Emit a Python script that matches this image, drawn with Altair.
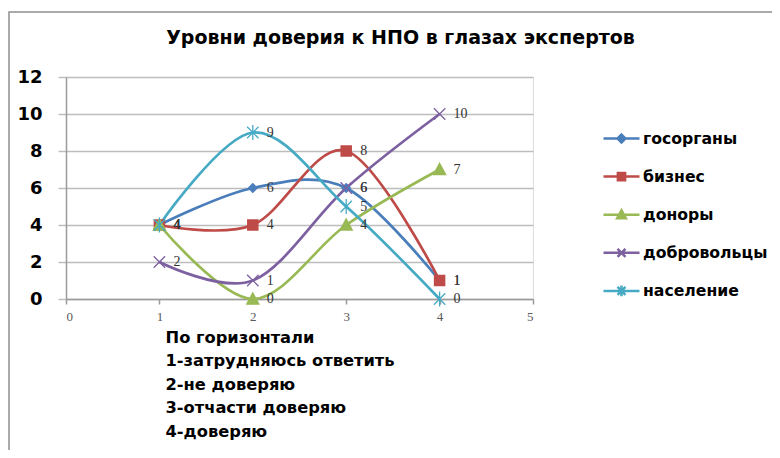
import altair as alt
import pandas as pd

# ---- data ----
series = ["госорганы", "бизнес", "доноры", "добровольцы", "население"]
x_vals = [1, 2, 3, 4]
gosorgany = [4, 6, 6, 1]
biznes = [4, 4, 8, 1]
donory = [4, 0, 4, 7]
dobrovoltsy = [2, 1, 6, 10]
naselenie = [4, 9, 5, 0]
x_ticks = [0, 1, 2, 3, 4, 5]
y_ticks = [0, 2, 4, 6, 8, 10, 12]
note_lines = ["По горизонтали", "1-затрудняюсь ответить", "2-не доверяю",
              "3-отчасти доверяю", "4-доверяю"]
title_text = "Уровни доверия к НПО в глазах экспертов"

# ---- styles ----
colors = ["#4A7EBB", "#BE4B48", "#98B954", "#7D60A0", "#46AAC5"]
marker_paths = [
    "M0,-1L1,0L0,1L-1,0Z",
    "M-1,-1H1V1H-1Z",
    "M0,-1L1,0.85H-1Z",
    "M-1,-1L1,1M1,-1L-1,1",
    "M-1,-1L1,1M1,-1L-1,1M0,-1.3V1.3",
]
marker_sizes = [70, 100, 140, 130, 130]
marker_strokes = [1.5, 1.5, 1.5, 1.3, 1.3]
legend_paths = [
    "M-1,0H1M0,-0.22L0.22,0L0,0.22L-0.22,0Z",
    "M-1,0H1M-0.2,-0.2H0.2V0.2H-0.2Z",
    "M-1,0H1M0,-0.24L0.24,0.2H-0.24Z",
    "M-1,0H1M-0.22,-0.22L0.22,0.22M0.22,-0.22L-0.22,0.22",
    "M-1,0H1M-0.22,-0.22L0.22,0.22M0.22,-0.22L-0.22,0.22M0,-0.3V0.3",
]

rows = []
for name, vals in zip(series, [gosorgany, biznes, donory, dobrovoltsy, naselenie]):
    for x, v in zip(x_vals, vals):
        rows.append({"series": name, "x": x, "y": v})
df = pd.DataFrame(rows)

FONT = "DejaVu Sans"
color_scale = alt.Scale(domain=series, range=colors)

leg = alt.Legend(
    title=None, orient="none", legendX=536, legendY=42, padding=0,
    symbolSize=1296, symbolStrokeWidth=2.5, symbolOpacity=1,
    labelFont=FONT, labelFontSize=15.7, labelFontWeight="bold",
    labelColor="black", labelOffset=2, rowPadding=9.1, labelLimit=300,
)

base = alt.Chart(df).encode(
    x=alt.X("x:Q", scale=alt.Scale(domain=[0, 5], nice=False),
            axis=alt.Axis(values=x_ticks, grid=False, title=note_lines,
                          domainColor="#9a9a9a", domainWidth=1.5,
                          tickColor="#9a9a9a", tickSize=5, tickWidth=1.5,
                          labelFont="Liberation Serif", labelFontSize=13,
                          labelColor="#595959", labelPadding=6,
                          titleFont=FONT, titleFontSize=16.3,
                          titleFontWeight="bold", titleColor="black",
                          titleAnchor="start", titleAlign="left",
                          titleBaseline="top", titleX=99, titleY=30,
                          titleLineHeight=23.5)),
    y=alt.Y("y:Q", scale=alt.Scale(domain=[0, 12], nice=False),
            axis=alt.Axis(values=y_ticks, grid=True, title=None,
                          gridColor="#bdbdbd", gridWidth=1.5,
                          domainColor="#9a9a9a", domainWidth=1.5,
                          tickColor="#bdbdbd", tickSize=8, tickWidth=1.5,
                          labelFont=FONT, labelFontSize=18,
                          labelFontWeight="bold", labelColor="black",
                          labelPadding=16)),
)

frame = alt.Chart(pd.DataFrame({"k": [0]})).mark_rect(
    fillOpacity=0, stroke="#8f8f8f", strokeWidth=1.5
).encode(x=alt.value(-57), x2=alt.value(900), y=alt.value(-65), y2=alt.value(700))

legend_layer = base.mark_point(size=0, filled=False, strokeWidth=2.5).encode(
    color=alt.Color("series:N", scale=color_scale, legend=leg),
    fill=alt.Fill("series:N", scale=color_scale, legend=leg),
    shape=alt.Shape("series:N", scale=alt.Scale(domain=series, range=legend_paths), legend=leg),
)

lines = base.mark_line(interpolate="cardinal", strokeWidth=2.7).encode(
    color=alt.Color("series:N", scale=color_scale, legend=None),
    order=alt.Order("x:Q"),
)

point_layers = []
for i, name in enumerate(series):
    point_layers.append(
        base.transform_filter(alt.datum.series == name).mark_point(
            shape=marker_paths[i], filled=False, strokeWidth=marker_strokes[i],
            size=marker_sizes[i], opacity=1
        ).encode(
            color=alt.Color("series:N", scale=color_scale, legend=None),
            fill=alt.Fill("series:N", scale=color_scale, legend=None),
        )
    )

labels = base.mark_text(align="left", baseline="middle", dx=14,
                        font="Liberation Serif", fontSize=14, color="#333333").encode(
    text="y:Q"
)

chart = alt.layer(legend_layer, frame, lines, *point_layers, labels).properties(
    width=467, height=222,
    autosize=alt.AutoSizeParams(type="none"),
    padding={"left": 58, "top": 69, "right": 239, "bottom": 151},
    title=alt.Title(title_text, font=FONT, fontSize=19, fontWeight="bold",
                    color="black", anchor="middle", frame="group", dx=101,
                    dy=18, offset=-34, baseline="alphabetic"),
).configure_view(stroke=None).configure(background="white")

chart.save("out.html", embed_options={"renderer": "svg", "actions": False})
